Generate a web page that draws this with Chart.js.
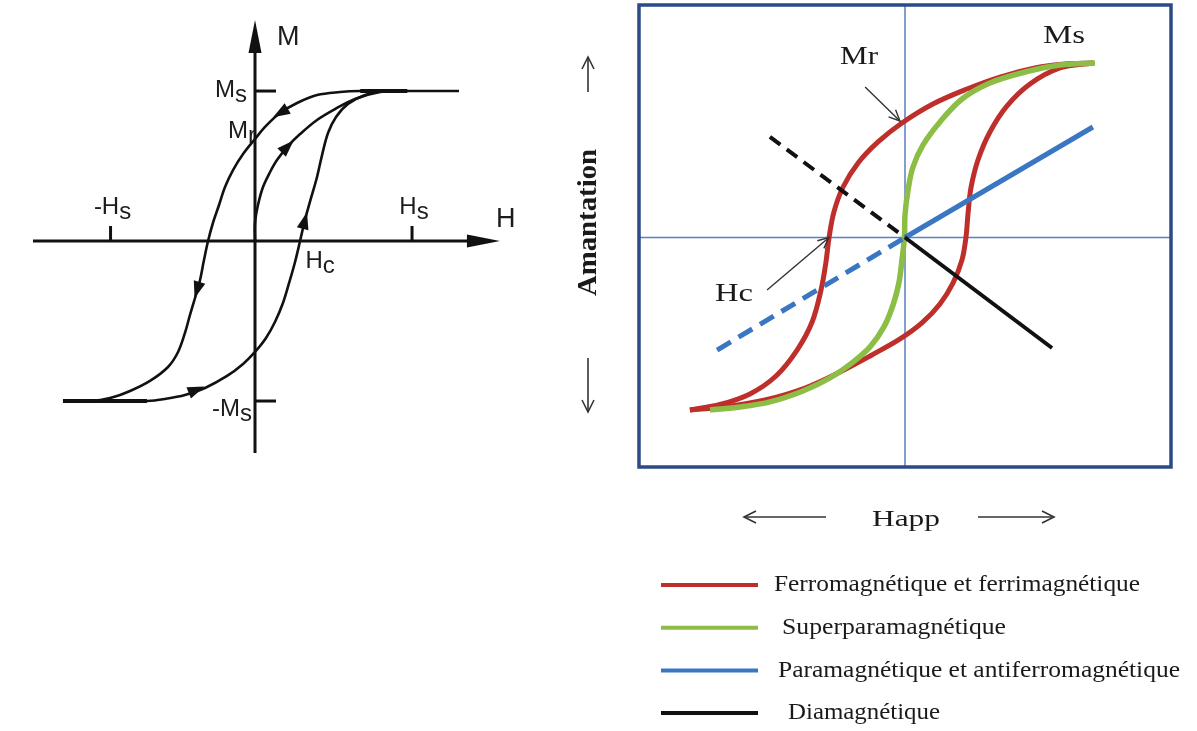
<!DOCTYPE html>
<html lang="fr">
<head>
<meta charset="utf-8">
<title>Cycles d'aimantation</title>
<script src="https://cdn.jsdelivr.net/npm/chart.js@4.4.1/dist/chart.umd.min.js"></script>
<style>
  html, body { margin: 0; padding: 0; background: #fff; }
  body { position: relative; width: 1197px; height: 731px; overflow: hidden; }
  #loop { position: absolute; left: 0; top: 0; }
  #types { position: absolute; left: 560px; top: 0; }
</style>
</head>
<body>
<canvas id="loop" width="540" height="470"></canvas>
<canvas id="types" width="637" height="731"></canvas>
<script>
// ---------- hysteresis loop: H in units of Hs, M in units of Ms ----------
const LOOP_DOWN_H = [1.299, 0.968, 0.669, 0.541, 0.395, 0.268, 0.159, 0.07, 0, -0.076, -0.14, -0.191, -0.229, -0.268, -0.299, -0.325, -0.35, -0.382, -0.414, -0.446, -0.49, -0.554, -0.669, -0.796, -0.924, -1.051, -1.223];
const LOOP_DOWN_M = [1.0, 1.0, 1.0, 0.993, 0.973, 0.92, 0.853, 0.767, 0.68, 0.58, 0.473, 0.36, 0.24, 0.12, 0, -0.127, -0.26, -0.38, -0.493, -0.613, -0.74, -0.84, -0.933, -1.0, -1.047, -1.067, -1.067];
const LOOP_UP_H = [-0.924, -0.688, -0.573, -0.446, -0.318, -0.178, -0.076, 0, 0.07, 0.127, 0.178, 0.217, 0.255, 0.287, 0.318, 0.357, 0.395, 0.427, 0.465, 0.516, 0.592, 0.701, 0.828, 0.968];
const LOOP_UP_M = [-1.067, -1.067, -1.053, -1.027, -0.98, -0.9, -0.82, -0.74, -0.647, -0.54, -0.413, -0.28, -0.14, 0, 0.14, 0.287, 0.427, 0.573, 0.72, 0.827, 0.913, 0.973, 1.0, 1.0];
const FIRST_H = [0, 0, 0.019, 0.051, 0.096, 0.14, 0.21, 0.287, 0.395, 0.51, 0.637, 0.796, 0.92];
const FIRST_M = [0, 0.12, 0.24, 0.36, 0.46, 0.54, 0.633, 0.713, 0.807, 0.88, 0.947, 0.993, 1.0];
// overlapping saturation stretches
const SAT_TOP_H = [0.67, 0.97];
const SAT_LOW_H = [-1.223, -0.688];

const LOOP_H_TICKS = [-0.92, 1];
const LOOP_H_TICK_LABELS = [['-H', 's'], ['H', 's']];
const LOOP_M_TICKS = [1, -1.067];
const LOOP_M_TICK_LABELS = [['M', 's'], ['-M', 's']];
const LOOP_MR = 0.68;
const LOOP_HC = 0.29;

// direction marks along the loop (position + heading)
const MARK_H = [0.159, 0.21, 0.318, -0.37, -0.369];
const MARK_M = [0.853, 0.633, 0.14, -0.33, -0.99];
const MARK_DH = [-0.3, 0.255, 0.108, -0.064, 0.41];
const MARK_DM = [-0.187, 0.267, 0.427, -0.22, 0.173];

// ---------- magnetic behaviours: H and M in units of Hs / Ms ----------
const SERIES_NAMES = ['Ferromagnétique et ferrimagnétique', 'Superparamagnétique', 'Paramagnétique et antiferromagnétique', 'Diamagnétique'];
const FERRO_UP_H = [0.989, 0.842, 0.684, 0.5, 0.326, 0.147, -0.016, -0.142, -0.247, -0.326, -0.374, -0.4, -0.416, -0.442, -0.489, -0.568, -0.679, -0.816, -0.974, -1.132];
const FERRO_UP_M = [1.003, 0.997, 0.974, 0.922, 0.853, 0.767, 0.658, 0.549, 0.428, 0.29, 0.147, -0.003, -0.141, -0.302, -0.486, -0.647, -0.796, -0.899, -0.96, -0.991];
const FERRO_LOW_H = [-1.132, -0.947, -0.737, -0.526, -0.342, -0.174, -0.026, 0.089, 0.184, 0.253, 0.3, 0.321, 0.332, 0.347, 0.384, 0.447, 0.537, 0.658, 0.816, 0.989];
const FERRO_LOW_M = [-0.991, -0.974, -0.934, -0.865, -0.773, -0.675, -0.583, -0.491, -0.382, -0.261, -0.129, 0.003, 0.141, 0.284, 0.445, 0.606, 0.756, 0.882, 0.974, 1.003];
const SUPER_H = [-1.026, -0.868, -0.711, -0.537, -0.395, -0.279, -0.184, -0.111, -0.063, -0.032, -0.016, -0.003, 0, 0.016, 0.042, 0.095, 0.184, 0.3, 0.447, 0.632, 0.816, 1.0];
const SUPER_M = [-0.991, -0.974, -0.945, -0.882, -0.807, -0.721, -0.629, -0.514, -0.388, -0.261, -0.129, 0, 0.129, 0.273, 0.405, 0.532, 0.664, 0.796, 0.888, 0.951, 0.991, 1.003];
const PARA_H = [-0.989, 0, 0.989];
const PARA_M = [-0.647, 0, 0.635];
const DIA_H = [-0.711, 0, 0.774];
const DIA_M = [0.578, 0, -0.635];

const MR_POINT = [-0.016, 0.658];
const HC_POINT = [-0.4, 0];

const pts = (hs, ms) => hs.map((h, i) => ({ x: h, y: ms[i] }));

function head(ctx, x, y, ang, len, half, filled) {
  const c = Math.cos(ang), s = Math.sin(ang);
  const bx = x - len * c, by = y - len * s;
  ctx.beginPath();
  ctx.moveTo(bx - half * s, by + half * c);
  ctx.lineTo(x, y);
  ctx.lineTo(bx + half * s, by - half * c);
  if (filled) { ctx.closePath(); ctx.fill(); } else { ctx.stroke(); }
}

function arrowLine(ctx, x0, y0, x1, y1, len, half) {
  ctx.beginPath();
  ctx.moveTo(x0, y0);
  ctx.lineTo(x1, y1);
  ctx.stroke();
  head(ctx, x1, y1, Math.atan2(y1 - y0, x1 - x0), len, half, false);
}

// text squeezed or stretched horizontally to a given width
function fitText(ctx, text, x, y, width) {
  const w = ctx.measureText(text).width;
  ctx.save();
  ctx.translate(x, y);
  ctx.scale(width / w, 1);
  ctx.fillText(text, 0, 0);
  ctx.restore();
}

const SANS = '"Liberation Sans", Arial, sans-serif';
const SERIF = '"Liberation Serif", "Times New Roman", serif';

function subLabel(ctx, main, sub, x, y, align) {
  ctx.font = '24px ' + SANS;
  ctx.textAlign = 'left';
  ctx.textBaseline = 'alphabetic';
  const wm = ctx.measureText(main).width, ws = ctx.measureText(sub).width;
  let left = x;
  if (align === 'right') left = x - wm - ws;
  if (align === 'center') left = x - (wm + ws) / 2;
  ctx.fillText(main, left, y);
  ctx.fillText(sub, left + wm, y + 5);
}

// axes, ticks, labels and direction marks of the loop
const loopDecor = {
  id: 'loopDecor',
  beforeDatasetsDraw(chart) {
    const { ctx, scales: { x, y } } = chart;
    const X = v => x.getPixelForValue(v), Y = v => y.getPixelForValue(v);
    ctx.save();
    ctx.strokeStyle = '#111';
    ctx.fillStyle = '#111';
    ctx.lineWidth = 3;
    ctx.lineCap = 'butt';
    // H axis
    ctx.beginPath();
    ctx.moveTo(X(-1.414), Y(0));
    ctx.lineTo(X(1.56) - 20, Y(0));
    ctx.stroke();
    head(ctx, X(1.56), Y(0), 0, 33, 6.5, true);
    // M axis
    ctx.beginPath();
    ctx.moveTo(X(0), Y(-1.413));
    ctx.lineTo(X(0), Y(1.473) + 20);
    ctx.stroke();
    head(ctx, X(0), Y(1.473), -Math.PI / 2, 33, 6.5, true);
    // ticks
    LOOP_H_TICKS.forEach(h => {
      ctx.beginPath();
      ctx.moveTo(X(h), Y(0));
      ctx.lineTo(X(h), Y(0) - 15);
      ctx.stroke();
    });
    LOOP_M_TICKS.forEach(m => {
      ctx.beginPath();
      ctx.moveTo(X(0), Y(m));
      ctx.lineTo(X(0) + 21, Y(m));
      ctx.stroke();
    });
    // labels
    ctx.fillStyle = '#1c1c1c';
    ctx.font = '27px ' + SANS;
    ctx.textAlign = 'left';
    ctx.fillText('M', X(0) + 22, Y(1.307));
    ctx.fillText('H', X(1.535), Y(0) - 14);
    LOOP_H_TICKS.forEach((h, i) => subLabel(ctx, LOOP_H_TICK_LABELS[i][0], LOOP_H_TICK_LABELS[i][1], X(h) + 2, Y(0) - 27, 'center'));
    subLabel(ctx, LOOP_M_TICK_LABELS[0][0], LOOP_M_TICK_LABELS[0][1], X(0) - 8, Y(LOOP_M_TICKS[0]) + 6, 'right');
    subLabel(ctx, LOOP_M_TICK_LABELS[1][0], LOOP_M_TICK_LABELS[1][1], X(0) - 3, Y(LOOP_M_TICKS[1]) + 15, 'right');
    subLabel(ctx, 'M', 'r', X(0) + 1, Y(LOOP_MR) - 1, 'right');
    subLabel(ctx, 'H', 'c', X(LOOP_HC) + 5, Y(0) + 27, 'left');
    ctx.restore();
  },
  afterDatasetsDraw(chart) {
    const { ctx, scales: { x, y } } = chart;
    ctx.save();
    ctx.fillStyle = '#111';
    MARK_H.forEach((h, i) => {
      const px = x.getPixelForValue(h), py = y.getPixelForValue(MARK_M[i]);
      const dx = x.getPixelForValue(h + MARK_DH[i]) - px;
      const dy = y.getPixelForValue(MARK_M[i] + MARK_DM[i]) - py;
      const ang = Math.atan2(dy, dx);
      head(ctx, px + 8 * Math.cos(ang), py + 8 * Math.sin(ang), ang, 17, 6, true);
    });
    ctx.restore();
  }
};

const loopLine = { borderColor: '#111', borderWidth: 2.6, pointRadius: 0, showLine: true, tension: 0.35, fill: false };

new Chart(document.getElementById('loop').getContext('2d'), {
  type: 'scatter',
  data: {
    datasets: [
      { ...loopLine, data: pts(LOOP_DOWN_H, LOOP_DOWN_M) },
      { ...loopLine, data: pts(LOOP_UP_H, LOOP_UP_M) },
      { ...loopLine, data: pts(FIRST_H, FIRST_M) },
      { ...loopLine, borderWidth: 4, tension: 0, data: pts(SAT_TOP_H, [1, 1]) },
      { ...loopLine, borderWidth: 4, tension: 0, data: pts(SAT_LOW_H, [-1.067, -1.067]) }
    ]
  },
  options: {
    responsive: false,
    animation: false,
    events: [],
    layout: { padding: 0 },
    plugins: { legend: { display: false }, tooltip: { enabled: false } },
    scales: {
      x: { type: 'linear', display: false, min: -1.624, max: 1.815 },
      y: { type: 'linear', display: false, min: -1.527, max: 1.607 }
    }
  },
  plugins: [loopDecor]
});

// frame, crosshair, pointers, axis names and legend of the behaviours chart
const SERIES_COLORS = ['#be2f2b', '#8cbd44', '#3a76c2', '#111111'];

const typesDecor = {
  id: 'typesDecor',
  beforeDatasetsDraw(chart) {
    const { ctx, chartArea: a, scales: { x, y } } = chart;
    ctx.save();
    ctx.strokeStyle = '#5a80c2';
    ctx.lineWidth = 1.5;
    ctx.beginPath();
    ctx.moveTo(x.getPixelForValue(0), a.top);
    ctx.lineTo(x.getPixelForValue(0), a.bottom);
    ctx.moveTo(a.left, y.getPixelForValue(0));
    ctx.lineTo(a.right, y.getPixelForValue(0));
    ctx.stroke();
    ctx.restore();
  },
  afterDatasetsDraw(chart) {
    const { ctx, chartArea: a, scales: { x, y } } = chart;
    const X = v => x.getPixelForValue(v), Y = v => y.getPixelForValue(v);
    ctx.save();
    ctx.strokeStyle = '#2b4a86';
    ctx.lineWidth = 3.5;
    ctx.strokeRect(a.left, a.top, a.right - a.left, a.bottom - a.top);

    ctx.strokeStyle = '#333';
    ctx.lineWidth = 1.4;
    arrowLine(ctx, X(-0.21), Y(0.865), X(MR_POINT[0]) - 2, Y(MR_POINT[1]) - 2, 11, 5);
    arrowLine(ctx, X(-0.726), Y(-0.302), X(HC_POINT[0]), Y(HC_POINT[1]), 11, 5);

    ctx.fillStyle = '#1a1a1a';
    ctx.font = '25px ' + SERIF;
    ctx.textAlign = 'left';
    ctx.textBaseline = 'middle';
    fitText(ctx, 'Mr', X(-0.242) - 19, Y(1.032), 38);
    fitText(ctx, 'Ms', X(0.837) - 21, Y(1.158), 42);
    fitText(ctx, 'Hc', X(-0.9) - 19, Y(-0.33), 38);
    ctx.restore();
  },
  afterDraw(chart) {
    const { ctx } = chart;
    ctx.save();
    ctx.strokeStyle = '#333';
    ctx.lineWidth = 1.6;
    // magnetisation direction arrows
    arrowLine(ctx, 28, 92, 28, 57, 12, 6);
    arrowLine(ctx, 28, 358, 28, 412, 12, 6);
    // applied field direction arrows
    arrowLine(ctx, 266, 517, 184, 517, 12, 6);
    arrowLine(ctx, 418, 517, 494, 517, 12, 6);

    ctx.fillStyle = '#1a1a1a';
    ctx.textBaseline = 'middle';
    ctx.textAlign = 'left';
    ctx.save();
    ctx.translate(29, 223);
    ctx.rotate(-Math.PI / 2);
    ctx.font = 'bold 28px ' + SERIF;
    fitText(ctx, 'Amantation', -73, 0, 147);
    ctx.restore();

    ctx.font = '24px ' + SERIF;
    fitText(ctx, 'Happ', 312, 520, 68);

    // legend
    const indent = [0, 8, 4, 14];
    const widths = [366, 224, 402, 152];
    SERIES_NAMES.forEach((name, i) => {
      const ly = 585 + i * 42.7;
      ctx.strokeStyle = SERIES_COLORS[i];
      ctx.lineWidth = 4;
      ctx.beginPath();
      ctx.moveTo(101, ly);
      ctx.lineTo(198, ly);
      ctx.stroke();
      ctx.font = '24px ' + SERIF;
      fitText(ctx, name, 214 + indent[i], ly, widths[i]);
    });
    ctx.restore();
  }
};

const dashLeft = dash => ({ borderDash: c => (c.p0.parsed.x < 0 ? dash : undefined) });
const curve = { pointRadius: 0, showLine: true, fill: false, borderCapStyle: 'butt', borderJoinStyle: 'round' };

new Chart(document.getElementById('types').getContext('2d'), {
  type: 'scatter',
  data: {
    datasets: [
      { ...curve, label: SERIES_NAMES[0], order: 4, borderColor: SERIES_COLORS[0], borderWidth: 5, tension: 0.35, data: pts(FERRO_UP_H, FERRO_UP_M) },
      { ...curve, label: SERIES_NAMES[0], order: 4, borderColor: SERIES_COLORS[0], borderWidth: 5, tension: 0.35, data: pts(FERRO_LOW_H, FERRO_LOW_M) },
      { ...curve, label: SERIES_NAMES[1], order: 3, borderColor: SERIES_COLORS[1], borderWidth: 5.5, tension: 0.35, data: pts(SUPER_H, SUPER_M) },
      { ...curve, label: SERIES_NAMES[2], order: 2, borderColor: SERIES_COLORS[2], borderWidth: 5, tension: 0, segment: dashLeft([16, 9]), data: pts(PARA_H, PARA_M) },
      { ...curve, label: SERIES_NAMES[3], order: 1, borderColor: SERIES_COLORS[3], borderWidth: 4, tension: 0, segment: dashLeft([13, 8]), data: pts(DIA_H, DIA_M) }
    ]
  },
  options: {
    responsive: false,
    animation: false,
    events: [],
    layout: { padding: { left: 79, right: 26, top: 5, bottom: 264 } },
    plugins: { legend: { display: false }, tooltip: { enabled: false } },
    scales: {
      x: { type: 'linear', display: false, min: -1.4, max: 1.4 },
      y: { type: 'linear', display: false, min: -1.319, max: 1.336 }
    }
  },
  plugins: [typesDecor]
});
</script>
</body>
</html>
